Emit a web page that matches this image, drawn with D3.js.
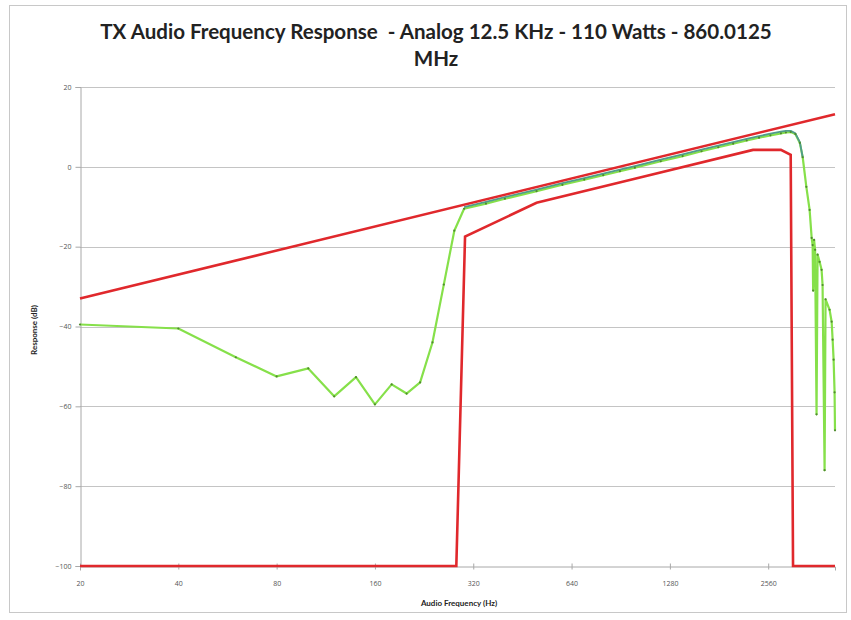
<!DOCTYPE html>
<html>
<head>
<meta charset="utf-8">
<script src="https://cdn.jsdelivr.net/npm/d3@7"></script>
<style>
  html, body { margin: 0; padding: 0; background: #fff; }
  svg { display: block; }
</style>
</head>
<body>
<svg id="chart" width="851" height="620"></svg>
<script>
// ---- Data ----
const titleLines = ["TX Audio Frequency Response  - Analog 12.5 KHz - 110 Watts - 860.0125", "MHz"];
const xTicks = [20, 40, 80, 160, 320, 640, 1280, 2560];
const yTicks = [20, 0, -20, -40, -60, -80, -100];

const upperFreq = [20, 4100];
const upperDb = [-33, 13.2];

const lowerFreq = [20, 284, 302, 500, 1000, 2300, 2800, 3000, 3050, 4100];
const lowerDb = [-100, -100, -17.5, -9, -3, 4.25, 4.25, 3, -100, -100];

const greenFreq = [20, 40, 60, 80, 100, 120, 140, 160, 180, 200, 220, 240, 260, 280, 300,
  350, 400, 500, 600, 700, 800, 900, 1000, 1200, 1400, 1600, 1800, 2000, 2200, 2400, 2600, 2800, 2900, 3000,
  3100, 3200, 3265, 3350, 3428, 3478, 3502, 3514, 3538, 3563, 3600, 3626, 3678, 3730, 3756, 3810, 3836,
  3946, 4004, 4032, 4060, 4088, 4100];
const greenDb = [-39.5, -40.5, -47.7, -52.5, -50.5, -57.5, -52.7, -59.5, -54.5, -56.8, -54, -44, -29.5, -16, -10.5,
  -9.2, -8.0, -6.1, -4.5, -3.2, -2.1, -1.1, -0.2, 1.4, 2.7, 3.9, 4.9, 5.8, 6.6, 7.3, 7.9, 8.4, 8.6, 8.7,
  8.2, 6.0, 2.4, -5, -10.8, -17.8, -19.6, -31, -18.3, -20.8, -62, -22, -23.8, -25.8, -29.6, -76, -33.2,
  -35.8, -38.8, -43.3, -48.3, -56.5, -66];

const tealFreq = [300, 350, 400, 500, 600, 700, 800, 900, 1000, 1200, 1400, 1600, 1800, 2000, 2200, 2400, 2600, 2800, 2900, 3000, 3100, 3200, 3265];
const tealDb = [-10.1, -8.8, -7.6, -5.7, -4.1, -2.8, -1.7, -0.7, 0.2, 1.8, 3.1, 4.3, 5.3, 6.2, 7.0, 7.7, 8.3, 8.8, 9.0, 9.0, 8.4, 6.2, 2.4];

const xTitle = "Audio Frequency (Hz)";
const yTitle = "Response (dB)";

// ---- Drawing ----
const svg = d3.select("#chart");
const plot = { left: 80, right: 835, top: 87, bottom: 566 };

const x = d3.scaleLog().base(2).domain([20, 4100]).range([plot.left, plot.right]);
const y = d3.scaleLinear().domain([-100, 20]).range([plot.bottom, plot.top]);

// chart border
svg.append("rect").attr("x", 9.5).attr("y", 5.5).attr("width", 837).attr("height", 607)
  .attr("fill", "#fff").attr("stroke", "#c8c8c8").attr("stroke-width", 1);

// title
const titleFont = "Lato, 'Open Sans', sans-serif";
const tg = svg.append("g");
const t1 = tg.append("text").attr("x", 436).attr("y", 39).attr("text-anchor", "middle")
  .style("white-space", "pre").attr("font-family", titleFont).attr("font-weight", "bold")
  .attr("font-size", 18).attr("fill", "#222").text(titleLines[0]);
const w = t1.node().getComputedTextLength();
const fs = 18 * 672 / w;
t1.attr("font-size", fs);
tg.append("text").attr("x", 436).attr("y", 66).attr("text-anchor", "middle")
  .attr("font-family", titleFont).attr("font-weight", "bold")
  .attr("font-size", fs).attr("fill", "#222").text(titleLines[1]);

// gridlines
svg.append("g").selectAll("line").data(yTicks.filter(d => d !== -100)).join("line")
  .attr("x1", plot.left).attr("x2", plot.right)
  .attr("y1", d => Math.round(y(d)) + 0.5).attr("y2", d => Math.round(y(d)) + 0.5)
  .attr("stroke", "#c4c4c4").attr("stroke-width", 1);

// y axis
const yAxis = d3.axisLeft(y).tickValues(yTicks).tickSize(5).tickPadding(4).tickFormat(d3.format("d"));
const yg = svg.append("g").attr("transform", `translate(${plot.left + 0.5},0)`).call(yAxis);
yg.select(".domain").attr("stroke", "#a8a8a8");
yg.selectAll(".tick line").attr("stroke", "#a8a8a8");
yg.selectAll(".tick text").attr("font-family", "'Open Sans', sans-serif").attr("font-size", 7).attr("fill", "#555");

// x axis
const xAxis = d3.axisBottom(x).tickValues(xTicks).tickSize(4).tickPadding(11).tickFormat(d3.format("d"));
const xg = svg.append("g").attr("transform", `translate(0,${plot.bottom + 0.5})`).call(xAxis);
xg.select(".domain").attr("stroke", "#a8a8a8");
xg.selectAll(".tick line").attr("stroke", "#a8a8a8").attr("y1", -3).attr("y2", 3);
xg.selectAll(".tick text").attr("font-family", "'Open Sans', sans-serif").attr("font-size", 7).attr("fill", "#555");

// axis titles
svg.append("text").attr("x", 459).attr("y", 606).attr("text-anchor", "middle")
  .attr("font-family", titleFont).attr("font-weight", "bold").attr("font-size", 8).attr("fill", "#222").text(xTitle);
svg.append("text").attr("transform", "translate(37,330) rotate(-90)").attr("text-anchor", "middle")
  .attr("font-family", titleFont).attr("font-weight", "bold").attr("font-size", 8).attr("fill", "#222").text(yTitle);

const line = d3.line().x(d => x(d[0])).y(d => y(d[1]));
const zip = (a, b) => a.map((v, i) => [v, b[i]]);

svg.append("clipPath").attr("id", "clip").append("rect")
  .attr("x", plot.left - 2).attr("y", plot.top - 10).attr("width", plot.right - plot.left + 4).attr("height", plot.bottom - plot.top + 20);

const lines = svg.append("g").attr("clip-path", "url(#clip)");

// green measured series
const greenData = zip(greenFreq, greenDb);
lines.append("path").datum(greenData).attr("d", line).attr("fill", "none")
  .attr("stroke", "#86e04a").attr("stroke-width", 2.2).attr("stroke-linejoin", "round");

// teal series
lines.append("path").datum(zip(tealFreq, tealDb)).attr("d", line).attr("fill", "none")
  .attr("stroke", "#4f9c8a").attr("stroke-width", 1.8).attr("stroke-linejoin", "round");

// green markers
lines.append("g").selectAll("circle").data(greenData).join("circle")
  .attr("cx", d => x(d[0])).attr("cy", d => y(d[1])).attr("r", 1.1)
  .attr("fill", "#4f8a2e");

// limit lines
lines.append("path").datum(zip(lowerFreq, lowerDb)).attr("d", line).attr("fill", "none")
  .attr("stroke", "#e0282c").attr("stroke-width", 2.6).attr("stroke-linejoin", "miter");
lines.append("path").datum(zip(upperFreq, upperDb)).attr("d", line).attr("fill", "none")
  .attr("stroke", "#e0282c").attr("stroke-width", 2.6);
</script>
</body>
</html>
